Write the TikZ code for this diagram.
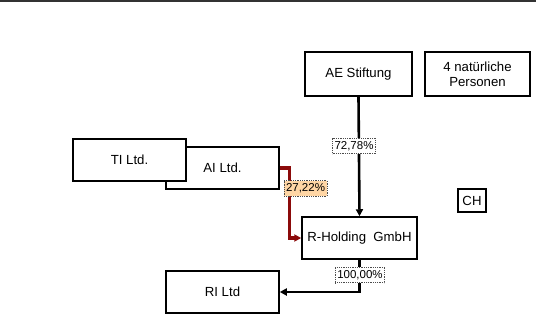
\documentclass[tikz,border=0pt]{standalone}
\usepackage{fontspec}
\setmainfont{Liberation Sans}
\usetikzlibrary{arrows.meta}
\definecolor{darkred}{HTML}{8B0A0A}
\definecolor{peach}{HTML}{FFD6A5}
\begin{document}
\begin{tikzpicture}[x=1pt,y=-1pt,
  box/.style={draw=black,line width=1.5pt,fill=white,inner sep=0pt,align=center,font=\fontsize{13.2}{15}\selectfont},
  pct/.style={draw=black!70,densely dotted,line width=0.8pt,fill=white,inner xsep=2pt,inner ysep=3pt,font=\fontsize{11.5}{12}\selectfont},
  link/.style={line width=2.6pt,-{Triangle[length=7pt,width=7pt]}},
  redlink/.style={line width=3.2pt,draw=darkred,-{Triangle[length=7pt,width=7pt]},line join=miter}]
\useasboundingbox (0,0) rectangle (536,324);
\draw[line width=1.5pt,draw=black!80] (0,0.75) -- (536,0.75);
\node[box,minimum width=107pt,minimum height=44pt] (AE) at (358.5,74) {AE Stiftung};
\node[box,minimum width=105pt,minimum height=44pt] (NP) at (477.5,74) {4 natürliche\\Personen};
\node[box,minimum width=113pt,minimum height=42pt] (AI) at (222.5,168) {AI Ltd.};
\node[box,minimum width=113pt,minimum height=42pt] (TI) at (129.5,160) {TI Ltd.};
\node[box,minimum width=115pt,minimum height=42pt] (RH) at (359.5,238) {R-Holding\ \ GmbH};
\node[box,minimum width=113pt,minimum height=42pt] (RI) at (222.5,292) {RI Ltd};
\node[box,minimum width=28pt,minimum height=23pt] (CH) at (472,200.5) {CH};
\draw[link] (AE.south) -- (RH.north);
\draw[redlink] (AI.east) -- ++(10,0) |- (RH.west);
\draw[link] (RH.south) |- (RI.east);
\node[pct] (p1) at (354,146) {72,78\%};
\node[pct,fill=peach] (p2) at (305.5,188.5) {27,22\%};
\node[pct] (p3) at (360,275) {100,00\%};
\end{tikzpicture}
\end{document}
